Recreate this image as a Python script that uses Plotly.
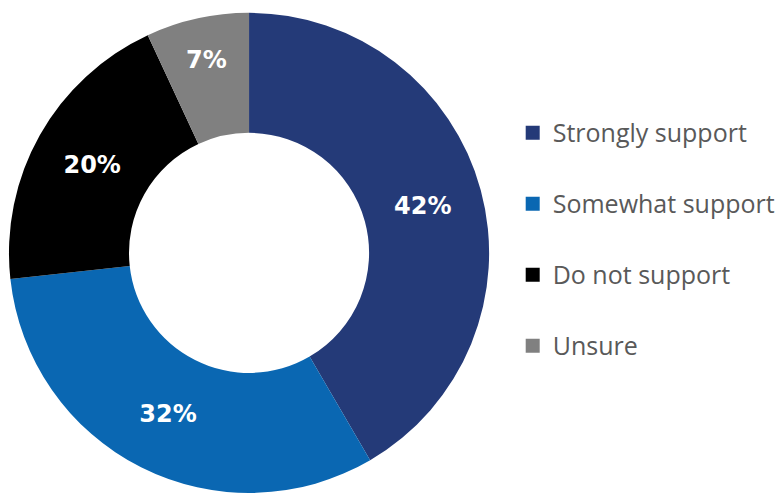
import plotly.graph_objects as go

categories = ["Strongly support", "Somewhat support", "Do not support", "Unsure"]
values = [42, 32, 20, 7]
colors = ["#243a78", "#0a67b2", "#000000", "#808080"]

fig = go.Figure()
fig.add_trace(go.Pie(
    labels=categories,
    values=values,
    text=[f"{v}%" for v in values],
    texttemplate="%{text}",
    textposition="inside",
    insidetextorientation="horizontal",
    insidetextfont=dict(family="DejaVu Sans", size=24, color="white", weight="bold"),
    marker=dict(colors=colors, line=dict(width=0)),
    hole=0.5,
    sort=False,
    direction="clockwise",
    rotation=0,
    showlegend=False,
    domain=dict(x=[9/781, 491/781], y=[0, 0.974]),
))

for name, col in zip(categories, colors):
    fig.add_trace(go.Scatter(
        x=[None], y=[None], mode="markers", name=name,
        legendgroup=name,
        marker=dict(symbol="square", size=14, color=col),
    ))

fig.update_layout(
    width=781, height=493,
    margin=dict(l=0, r=0, t=0, b=0),
    paper_bgcolor="white", plot_bgcolor="white",
    xaxis=dict(visible=False), yaxis=dict(visible=False),
    legend=dict(
        x=0.659, y=0.777, xanchor="left", yanchor="top",
        font=dict(family="Open Sans", size=25, color="#595959"),
        tracegroupgap=35.5,
        itemclick=False,
    ),
)

fig.write_html("out.html")
